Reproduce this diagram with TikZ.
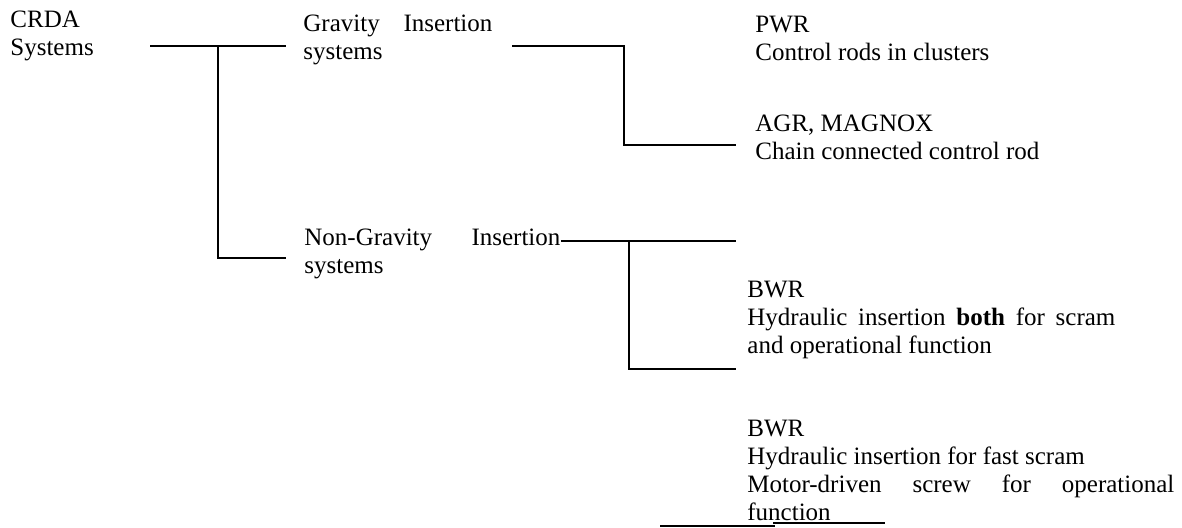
\documentclass[tikz,border=0pt]{standalone}
\usepackage{fontspec}
\setmainfont{Liberation Serif}
\usepackage{tikz}
\usetikzlibrary{calc}
\hyphenpenalty=10000
\tolerance=9999
\hbadness=10000
\tikzset{
  ctext/.style={anchor=base west, inner sep=0pt, text width=160pt, align=flush left,
                font=\fontsize{12.5}{14}\selectfont},
  cpara/.style={ctext, align=justify},
  cline/.style={black, line width=0.6pt},
  cthick/.style={black, line width=1pt},
}

\begin{document}
\begin{tikzpicture}[x=0.5pt,y=-0.5pt]
  \useasboundingbox (0,0) rectangle (1182,527);

  % raiz
  \node[ctext, text width=60pt] (crda) at (10,27) {CRDA\\Systems};
  \coordinate (r0) at (150,46);
  \coordinate (f0) at (218,46);
  \coordinate (g0) at (286,46);
  \coordinate (n0) at (286,258);
  \draw[cline, line width=0.8pt] (r0) -- (g0);
  \draw[cline] (f0) |- (n0);

  % gravity
  \node[cpara, text width=94.5pt] (grav) at (303,31) {Gravity Insertion systems};
  \coordinate (r1) at (512,46);
  \coordinate (f1) at (624,46);
  \coordinate (a1) at (736,145);
  \draw[cline] (r1) -- (f1) |- (a1);

  % non-gravity
  \node[cpara, text width=128pt] (ngrav) at (304,245) {Non-Gravity Insertion systems};
  \coordinate (f2) at (629,241);
  \coordinate (t2) at (736,241);
  \coordinate (b2) at (736,369);
  \draw[cthick] ($(ngrav.base east)+(0,-4)$) -- (t2);
  \draw[cthick] (f2) |- (b2);

  % reatores
  \node[ctext] (pwr) at (755,32) {PWR\\Control rods in clusters};
  \node[ctext] (agr) at (755,131) {AGR, MAGNOX\\Chain connected control rod};
  \node[cpara, text width=184pt] (bwra) at (747,297)
        {BWR\\Hydraulic insertion \textbf{both} for scram and operational function};
  \node[cpara, text width=213.5pt] (bwrb) at (747,436)
        {BWR\\Hydraulic insertion for fast scram\\Motor-driven screw for operational function};

  % tracos soltos
  \coordinate (u1) at (660,526);
  \coordinate (u2) at (775,526);
  \coordinate (u3) at (773,523);
  \coordinate (u4) at (885,523);
  \draw[cline, line width=0.8pt] (u1) -- (u2);
  \draw[cline, line width=0.8pt] (u3) -- (u4);

\end{tikzpicture}
\end{document}
